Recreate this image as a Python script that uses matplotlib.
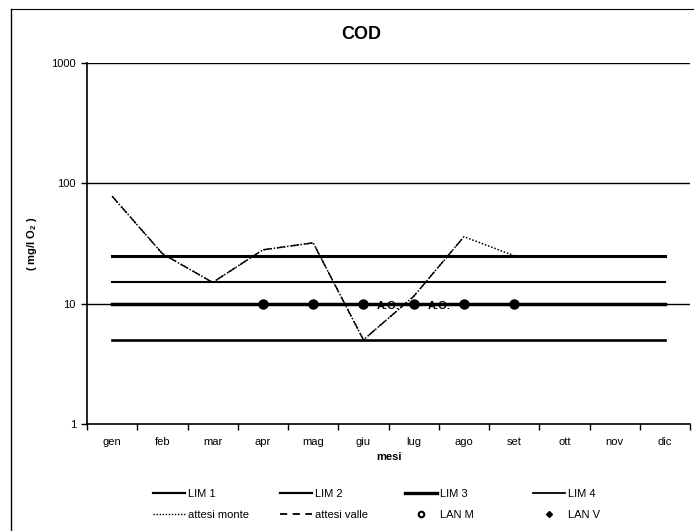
import matplotlib
matplotlib.use('Agg')
import matplotlib.pyplot as plt
import numpy as np
from matplotlib.lines import Line2D

plt.rcParams['font.family'] = ['Liberation Sans', 'DejaVu Sans']
plt.rcParams['mathtext.default'] = 'regular'

mesi = ['gen', 'feb', 'mar', 'apr', 'mag', 'giu', 'lug', 'ago', 'set', 'ott', 'nov', 'dic']

# limiti LIM (mg/l O2)
lim_1 = [5] * 12
lim_2 = [10] * 12
lim_3 = [15] * 12
lim_4 = [25] * 12

attesi_monte = [78, 26, 15, 28, 32, 5, 11.5, 36, 25, 24.5, 24.5, 24.5]
attesi_valle = [78, 26, 15, 28, 32, 5, 11.5, 36, np.nan, np.nan, np.nan, np.nan]
lan_m = [np.nan, np.nan, np.nan, 10, 10, 10, 10, 10, 10, np.nan, np.nan, np.nan]
lan_v = [np.nan] * 12
note_x = [5.5, 6.5]
note_txt = ['A.O.', 'A.O.']

fig = plt.figure(figsize=(6.94, 5.31), dpi=100)
ax = fig.add_axes([0.1254, 0.2015, 0.869, 0.680])
x = np.arange(len(mesi))

ax.plot(x, lim_1, color='black', lw=1.9, label='LIM 1')
ax.plot(x, lim_2, color='black', lw=2.5, label='LIM 2')
ax.plot(x, lim_3, color='black', lw=1.5, label='LIM 3')
ax.plot(x, lim_4, color='black', lw=2.2, label='LIM 4')
ax.plot(x, attesi_monte, color='black', lw=1.1, ls=(0, (1, 1.2)), label='attesi monte')
ax.plot(x, attesi_valle, color='black', lw=1.0, ls=(0, (6, 4)), label='attesi valle')
ax.plot(x, lan_m, ls='none', marker='o', ms=6.5, color='black', label='LAN M')
ax.plot(x, lan_v, ls='none', marker='D', ms=3.5, color='black', label='LAN V')
for xx, t in zip(note_x, note_txt):
    ax.text(xx, 9.6, t, ha='center', va='center', fontsize=8, fontweight='bold')

ax.set_yscale('log')
ax.set_ylim(1, 1000)
ax.set_xlim(-0.5, 11.5)
ax.set_yticks([1, 10, 100, 1000])
ax.set_yticklabels(['1', '10', '100', '1000'], fontsize=8)
ax.yaxis.set_minor_locator(matplotlib.ticker.NullLocator())
ax.tick_params(axis='y', direction='out', length=4, width=1, pad=4)

ax.set_xticks(x)
ax.set_xticklabels(mesi, fontsize=8)
ax.set_xticks(np.arange(-0.5, 12, 1), minor=True)
ax.tick_params(axis='x', which='major', length=0, pad=9)
ax.tick_params(axis='x', which='minor', direction='out', length=4, width=1)

for v in [10, 100, 1000]:
    ax.axhline(v, color='black', lw=1.0, zorder=0)
for s in ['top', 'right']:
    ax.spines[s].set_visible(False)
ax.spines['left'].set_linewidth(1.2)
ax.spines['bottom'].set_linewidth(1.2)

ax.set_xlabel('mesi', fontsize=8, fontweight='bold', labelpad=4)
ax.set_ylabel('( mg/l O$_2$ )', fontsize=8, fontweight='bold', labelpad=9)
ax.set_title('COD', fontsize=13, fontweight='bold', pad=17, x=0.454)

# legenda: quattro colonne di uguale larghezza, due voci ciascuna
columns = [
    ([Line2D([], [], color='black', lw=1.6), Line2D([], [], color='black', ls=(0, (1, 1.2)), lw=1.0)],
     ['LIM 1', 'attesi monte'], 153, 2.9),
    ([Line2D([], [], color='black', lw=1.6), Line2D([], [], color='black', ls=(0, (4, 3)), lw=1.3)],
     ['LIM 2', 'attesi valle'], 280, 2.9),
    ([Line2D([], [], color='black', lw=2.4), Line2D([], [], ls='none', marker='o', mfc='white', mec='black', mew=1.5, ms=4)],
     ['LIM 3', 'LAN M'], 405, 2.9),
    ([Line2D([], [], color='black', lw=1.3), Line2D([], [], ls='none', marker='D', color='black', ms=3)],
     ['LIM 4', 'LAN V'], 533, 2.9),
]
for handles, labels, px, hl in columns:
    fig.legend(handles, labels, loc='upper left', bbox_to_anchor=(px / 694, 1 - 489 / 531),
               frameon=False, fontsize=8, handlelength=hl, handletextpad=0.25,
               labelspacing=0.95, borderpad=0, borderaxespad=0)

# cornice del grafico
fig.add_artist(Line2D([0.016, 0.016], [0.0, 0.983], color='black', lw=1.0, transform=fig.transFigure))
fig.add_artist(Line2D([0.016, 1.0], [0.983, 0.983], color='black', lw=0.8, transform=fig.transFigure))

fig.savefig('out.png', dpi=100)
